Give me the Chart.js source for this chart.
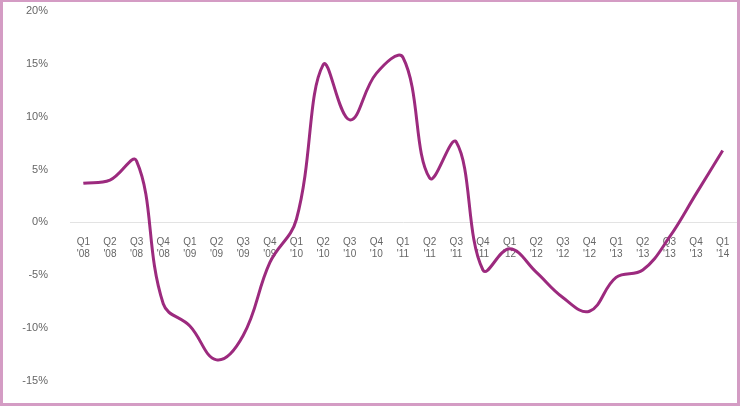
<!DOCTYPE html>
<html>
<head>
<meta charset="utf-8">
<script src="https://cdn.jsdelivr.net/npm/chart.js@4"></script>
<style>
  html, body { margin: 0; padding: 0; background: #fff; }
  #wrap { width: 740px; height: 406px; box-sizing: border-box; border: 3px solid #d49cc4; border-top-width: 2px; }
  canvas { display: block; }
</style>
</head>
<body>
<div id="wrap"><canvas id="grafica" width="734" height="401"></canvas></div>
<script>
// Quarter labels
const quarters = ["Q1","Q2","Q3","Q4","Q1","Q2","Q3","Q4","Q1","Q2","Q3","Q4","Q1","Q2","Q3","Q4","Q1","Q2","Q3","Q4","Q1","Q2","Q3","Q4","Q1"];
const years = ["'08","'08","'08","'08","'09","'09","'09","'09","'10","'10","'10","'10","'11","'11","'11","'11","'12","'12","'12","'12","'13","'13","'13","'13","'14"];

// Year-over-year change, %
const values = [3.7, 4.0, 5.8, -7.7, -9.8, -13.0, -10.7, -3.8, 0.3, 14.9, 9.7, 14.1, 15.6, 4.2, 7.6, -4.5, -2.5, -4.7, -7.1, -8.4, -5.2, -4.5, -1.4, 2.7, 6.8];

const yTicks = [20, 15, 10, 5, 0, -5, -10, -15];

let labels = quarters.map((q, i) => [q, years[i]]);

let ctx = document.getElementById("grafica").getContext("2d");
new Chart(ctx, {
    type: "line",
    data: {
        labels,
        datasets: [{
            data: values,
            borderColor: "#9c2a7e",
            borderWidth: 3,
            pointRadius: 0,
            tension: 0.4,
            fill: false
        }]
    },
    options: {
        responsive: false,
        animation: false,
        layout: { padding: { top: 9, right: 1, bottom: 22, left: 0 } },
        plugins: { legend: { display: false }, tooltip: { enabled: false } },
        scales: {
            x: {
                position: { y: 0 },
                offset: true,
                afterFit: s => { s.height = 0; s.paddingTop = 0; s.paddingBottom = 0; },
                grid: { display: false },
                border: { display: true, color: "#e3e3e3", width: 1 },
                ticks: {
                    color: "#666666",
                    font: { family: "Liberation Sans", size: 10 },
                    maxRotation: 0,
                    autoSkip: false,
                    padding: 6
                }
            },
            y: {
                min: -15,
                max: 20,
                afterBuildTicks: s => { s.ticks = yTicks.map(v => ({ value: v })); },
                afterFit: s => { s.width = 67; s.paddingTop = 0; s.paddingBottom = 0; },
                grid: { display: false },
                border: { display: false },
                ticks: {
                    color: "#666666",
                    font: { family: "Liberation Sans", size: 11 },
                    padding: 14,
                    callback: v => v + "%"
                }
            }
        }
    }
});
</script>
</body>
</html>
